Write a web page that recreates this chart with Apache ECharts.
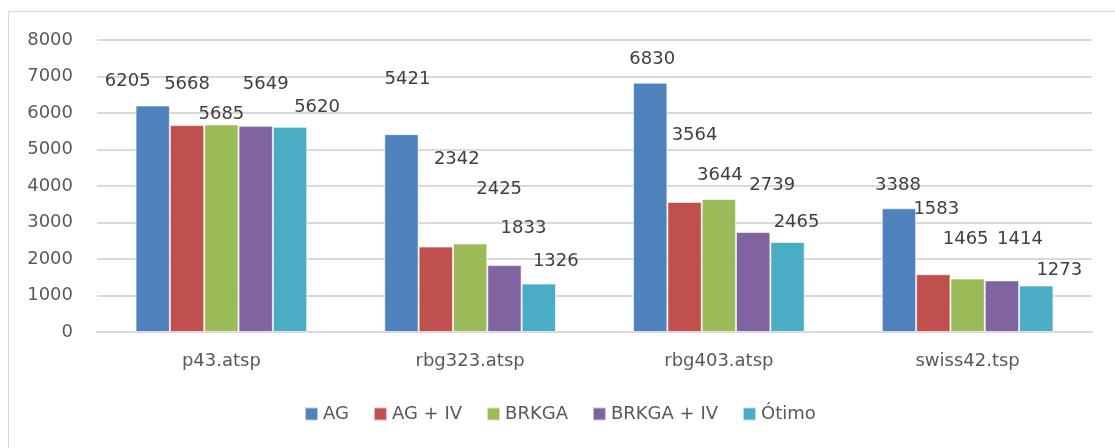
<!DOCTYPE html>
<html>
<head>
<meta charset="utf-8">
<script src="https://cdn.jsdelivr.net/npm/echarts@6/dist/echarts.min.js"></script>
<style>
  html, body { margin: 0; padding: 0; background: #fff; }
  #chart { width: 1115px; height: 448px; }
</style>
</head>
<body>
<div id="chart"></div>
<script>
const categories = ['p43.atsp', 'rbg323.atsp', 'rbg403.atsp', 'swiss42.tsp'];
const seriesNames = ['AG', 'AG + IV', 'BRKGA', 'BRKGA + IV', 'Ótimo'];
const agValues = [6205, 5421, 6830, 3388];
const agIvValues = [5668, 2342, 3564, 1583];
const brkgaValues = [5685, 2425, 3644, 1465];
const brkgaIvValues = [5649, 1833, 2739, 1414];
const otimoValues = [5620, 1326, 2465, 1273];
const yTicks = [0, 1000, 2000, 3000, 4000, 5000, 6000, 7000, 8000];

// Excel-style hand-dragged label positions (dx, dy per bar)
const labelShift = [
  [[-25, -10], [6, -41], [2, -9], [-1, -9]],
  [[0, -27], [21, -73], [10, -53], [3, -51]],
  [[0, 4], [29, -40], [1, -10], [-2, -25]],
  [[10, -27], [19, -23], [19, -33], [18, -27]],
  [[27, -6], [17, -8], [9, -6], [23, -1]]
];

const colors = ['#4f81bd', '#c0504d', '#9bbb59', '#8064a2', '#4bacc6'];
const allValues = [agValues, agIvValues, brkgaValues, brkgaIvValues, otimoValues];
const font = 'DejaVu Sans';

const chart = echarts.init(document.getElementById('chart'), null, { renderer: 'canvas' });

const series = seriesNames.map((name, s) => ({
  name: name,
  type: 'bar',
  barGap: '0%',
  barCategoryGap: '31%',
  itemStyle: { color: colors[s], borderColor: 'rgba(255,255,255,0.6)', borderWidth: 1 },
  data: allValues[s].map((v, c) => ({
    value: v,
    label: { offset: labelShift[s][c] }
  })),
  label: {
    show: true,
    position: 'top',
    distance: 5,
    color: '#404040',
    fontFamily: font,
    fontSize: 18
  }
}));

chart.setOption({
  animation: false,
  color: colors,
  graphic: [{
    type: 'rect',
    shape: { x: 8.5, y: 11.5, width: 1200, height: 600 },
    style: { fill: 'none', stroke: '#d9d9d9', lineWidth: 1 },
    silent: true
  }],
  grid: { left: 97, right: 23, top: 40, bottom: 116 },
  legend: {
    data: seriesNames,
    left: 304,
    top: 405,
    padding: 0,
    itemWidth: 13,
    itemHeight: 13,
    itemGap: 24,
    icon: 'rect',
    textStyle: { color: '#595959', fontFamily: font, fontSize: 18 }
  },
  xAxis: {
    type: 'category',
    data: categories,
    axisLine: { lineStyle: { color: '#d9d9d9', width: 2 } },
    axisTick: { show: false },
    axisLabel: { color: '#595959', fontFamily: font, fontSize: 18, margin: 20 }
  },
  yAxis: {
    type: 'value',
    min: yTicks[0],
    max: yTicks[yTicks.length - 1],
    interval: 1000,
    axisLine: { show: false },
    axisTick: { show: false },
    splitLine: { lineStyle: { color: '#d9d9d9', width: 2 } },
    axisLabel: {
      color: '#595959', fontFamily: font, fontSize: 18, margin: 24,
      formatter: v => String(v)
    }
  },
  series: series
});
</script>
</body>
</html>
